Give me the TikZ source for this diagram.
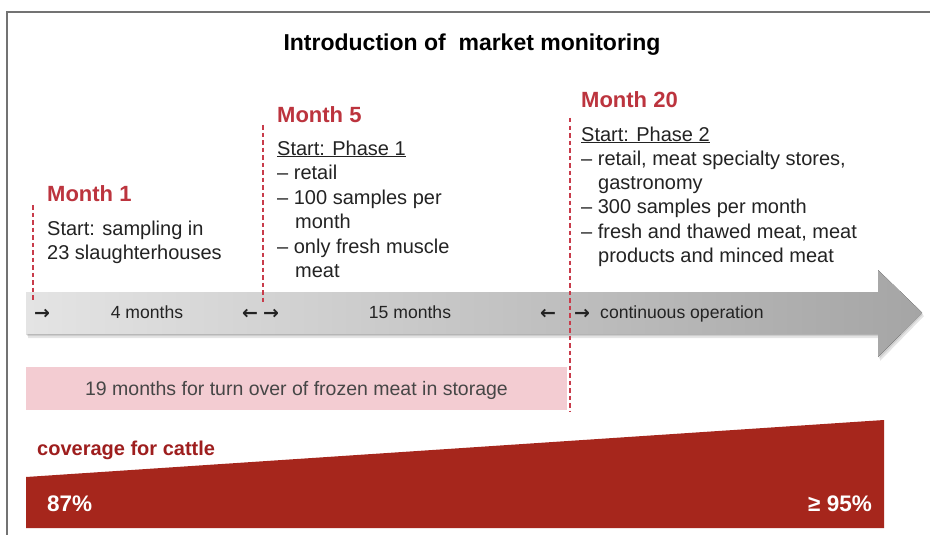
\documentclass[tikz,border=0pt]{standalone}
\usepackage{fontspec}
\setmainfont{Liberation Sans}
\newfontfamily\symfont{DejaVu Sans}
\definecolor{headred}{RGB}{188,52,62}
\definecolor{wedgered}{RGB}{166,38,28}
\definecolor{cattlered}{RGB}{158,30,30}
\definecolor{pinkbox}{RGB}{243,204,210}
\definecolor{txt}{RGB}{35,35,35}
\definecolor{pinktxt}{RGB}{70,70,70}
\definecolor{framegray}{RGB}{115,115,115}
\definecolor{dashred}{RGB}{200,60,75}
\definecolor{arrowL}{RGB}{228,228,228}
\definecolor{arrowR}{RGB}{165,165,165}
\begin{document}
\begin{tikzpicture}[x=1pt,y=-1pt,
  headtxt/.style={font=\fontsize{22}{26}\selectfont\bfseries, text=headred, anchor=base west, inner sep=0pt},
  bodytxt/.style={font=\fontsize{20}{24}\selectfont, text=txt, anchor=base west, inner sep=0pt},
  arrtxt/.style={font=\fontsize{17.6}{20}\selectfont, text=txt, anchor=base, inner sep=0pt},
  arrsym/.style={font=\symfont\fontsize{19}{22}\selectfont\bfseries, text=txt, anchor=base, inner sep=0pt},
  mline/.style={dashred, line width=1.3pt, dash pattern=on 4.5pt off 3pt},
  pcttxt/.style={font=\fontsize{22.5}{26}\selectfont\bfseries, text=white, inner sep=0pt}]
\useasboundingbox (0,0) rectangle (930,535);
\fill[white] (0,0) rectangle (930,535);
% frame
\draw[framegray, line width=1.3pt] (7,535) -- (7,12) -- (930,12);
% title
\node[font=\fontsize{23}{27}\selectfont\bfseries, text=black, anchor=base, inner sep=0pt] (title) at (472,51) {Introduction of\ \ market monitoring};
% gray arrow shadow
\fill[black, opacity=0.10] (28,296) -- (880,296) -- (880,274) -- (924,316) -- (880,361) -- (880,338) -- (28,338) -- cycle;
\fill[black, opacity=0.10] (27,294) -- (879,294) -- (879,272) -- (923,314) -- (879,359) -- (879,336) -- (27,336) -- cycle;
% gray arrow
\fill[left color=arrowL, right color=arrowR] (26,292) -- (878,292) -- (878,270) -- (922,312.5) -- (878,357) -- (878,334) -- (26,334) -- cycle;
% pink box
\fill[pinkbox] (26,367) rectangle (567,410);
\node[font=\fontsize{19.5}{23}\selectfont, text=pinktxt, anchor=base, inner sep=0pt] (frozen) at (296.5,395) {19 months for turn over of frozen meat in storage};
% red wedge
\fill[wedgered] (26,477) -- (884,420) -- (884,528) -- (26,528) -- cycle;
\node[font=\fontsize{20}{24}\selectfont\bfseries, text=cattlered, anchor=base west, inner sep=0pt] (cattle) at (37,455) {coverage for cattle};
\node[pcttxt, anchor=base west] (p87) at (47,511) {87\%};
\node[pcttxt, anchor=base east] (p95) at (872,511) {≥ 95\%};
% dashed markers
\coordinate (d1a) at (33,205); \coordinate (d1b) at (33,302);
\coordinate (d5a) at (263,125); \coordinate (d5b) at (263,304);
\coordinate (d20a) at (570,118); \coordinate (d20b) at (570,412);
\draw[mline] (d1a) -- (d1b);
\draw[mline] (d5a) -- (d5b);
\draw[mline] (d20a) -- (d20b);
% arrow labels
\node[arrsym] (a1) at (42,319) {→};
\node[arrtxt] (l4) at (147,318) {4 months};
\node[arrsym] (a2) at (250,319) {←};
\node[arrsym] (a3) at (271,319) {→};
\node[arrtxt] (l15) at (410,318) {15 months};
\node[arrsym] (a4) at (548,319) {←};
\node[arrsym] (a5) at (582,319) {→};
\node[arrtxt, anchor=base west] (lco) at (600,318) {continuous operation};
% Month 1
\node[headtxt] (m1) at (47,201) {Month 1};
\node[bodytxt] (m1a) at (47,235) {Start: sampling in};
\node[bodytxt] (m1b) at (47,259) {23 slaughterhouses};
% Month 5
\node[headtxt] (m5) at (277,122) {Month 5};
\node[bodytxt] (m5a) at (277,155) {\underline{Start: Phase 1}};
\node[bodytxt] (m5b) at (277,179.5) {– retail};
\node[bodytxt] (m5c) at (277,204) {– 100 samples per};
\node[bodytxt] (m5d) at (295,228) {month};
\node[bodytxt] (m5e) at (277,253) {– only fresh muscle};
\node[bodytxt] (m5f) at (295,277) {meat};
% Month 20
\node[headtxt] (m20) at (581,108) {Month 20};
\node[bodytxt] (m20a) at (581,141) {\underline{Start: Phase 2}};
\node[bodytxt] (m20b) at (581,165) {– retail, meat specialty stores,};
\node[bodytxt] (m20c) at (598,189) {gastronomy};
\node[bodytxt] (m20d) at (581,213) {– 300 samples per month};
\node[bodytxt] (m20e) at (581,238) {– fresh and thawed meat, meat};
\node[bodytxt] (m20f) at (598,262) {products and minced meat};
\end{tikzpicture}
\end{document}
